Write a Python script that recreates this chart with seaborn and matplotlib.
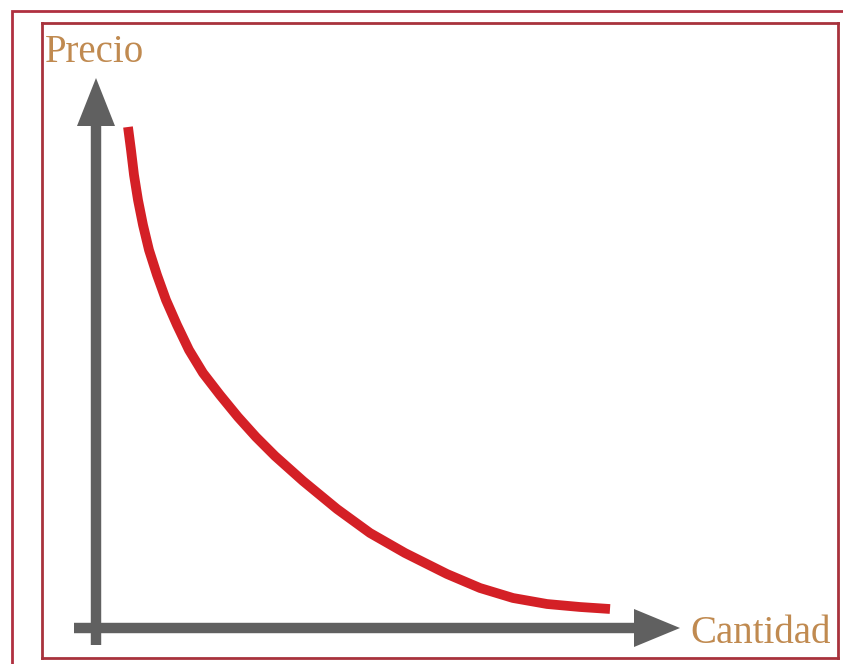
import matplotlib
matplotlib.use("Agg")
import matplotlib.pyplot as plt
import seaborn as sns
import pandas as pd
from matplotlib.patches import Rectangle, FancyArrow

sns.set_theme(style="white")
plt.rcParams['font.family'] = ['Liberation Serif', 'DejaVu Serif']

# Demand curve (Cantidad vs Precio), arbitrary units
cantidad = [32, 35, 38, 42, 47, 53, 61, 70, 81, 93, 107, 124, 142, 160, 179,
            207, 241, 274, 309, 351, 384, 417, 451, 484, 514]
precio = [501, 478, 453, 428, 403, 378, 353, 328, 303, 278, 255, 233, 211, 191, 172,
          147, 119, 95, 75, 54, 40, 30, 24, 21, 19]
x_label = "Cantidad"
y_label = "Precio"

df = pd.DataFrame({"Cantidad": cantidad, "Precio": precio})

W, H = 843, 664
fig = plt.figure(figsize=(W / 100, H / 100), dpi=100)
# inner box: px 42..838 horizontally, 23..658 vertically
ax = fig.add_axes([42 / W, 1 - 658 / H, (838 - 42) / W, (658 - 23) / H])
ax.set_xlim(-54, 742)
ax.set_ylim(-30, 605)
ax.set_xticks([])
ax.set_yticks([])
for s in ax.spines.values():
    s.set_color("#a8323c")
    s.set_linewidth(2)

# outer border
fig.patches.append(Rectangle((12 / W, -0.1), 1.2, 1 - 11 / H + 0.1, transform=fig.transFigure,
                             fill=False, edgecolor="#b03040", linewidth=2))

axis_col = "#606060"
# vertical axis
ax.plot([0, 0], [-17, 505], color=axis_col, lw=7.5, solid_capstyle="butt", zorder=2)
ax.add_patch(FancyArrow(0, 500, 0, 50, width=0.01, head_width=38, head_length=48,
                        length_includes_head=True, color=axis_col, lw=0, zorder=2))
# horizontal axis
ax.plot([-22, 545], [0, 0], color=axis_col, lw=7.5, solid_capstyle="butt", zorder=2)
ax.add_patch(FancyArrow(540, 0, 44, 0, width=0.01, head_width=38, head_length=46,
                        length_includes_head=True, color=axis_col, lw=0, zorder=2))

sns.lineplot(data=df, x="Cantidad", y="Precio", ax=ax, color="#d42026", lw=7,
             solid_capstyle="butt", solid_joinstyle="round", zorder=3, legend=False)
ax.set_xlabel("")
ax.set_ylabel("")

txt_col = "#c08a50"
ax.text(-51, 566, y_label, fontsize=28, color=txt_col, ha="left", va="baseline")
ax.text(594, -15, x_label, fontsize=28, color=txt_col, ha="left", va="baseline")

fig.savefig("out.png", dpi=100)
